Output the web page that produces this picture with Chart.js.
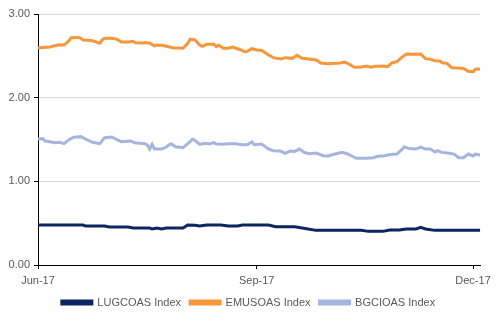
<!DOCTYPE html>
<html>
<head>
<meta charset="utf-8">
<script src="https://cdn.jsdelivr.net/npm/chart.js@4.4.0/dist/chart.umd.min.js"></script>
<style>
  html, body { margin: 0; padding: 0; background: #fff; }
  #wrap { width: 496px; height: 328px; }
</style>
</head>
<body>
<div id="wrap"><canvas id="myChart" width="496" height="328"></canvas></div>
<script>
// days counted from 1 Jun 2017
const xTickDays = [0, 92, 183];
const xTickLabels = ["Jun-17", "Sep-17", "Dec-17"];
const yTicks = [0, 1, 2, 3];

const seriesNames = ["LUGCOAS Index", "EMUSOAS Index", "BGCIOAS Index"];
const seriesColors = ["#0b2560", "#f7963a", "#a6b5de"];

const lugDays = [0, 19, 20, 28, 30, 38, 40, 47, 48, 50, 52, 54, 61, 63, 66, 68, 71, 77, 80, 84, 86, 97, 100, 108, 113, 117, 136, 139, 145, 148, 152, 155, 159, 161, 163, 167, 186];
const lugValues = [0.478, 0.478, 0.466, 0.466, 0.454, 0.454, 0.442, 0.442, 0.43, 0.442, 0.43, 0.442, 0.442, 0.478, 0.474, 0.466, 0.478, 0.478, 0.466, 0.466, 0.478, 0.478, 0.458, 0.458, 0.434, 0.414, 0.414, 0.402, 0.402, 0.418, 0.418, 0.43, 0.43, 0.45, 0.43, 0.414, 0.414];

const emuDays = [0, 2, 5, 7, 9, 11, 13, 14, 17, 18, 19, 21, 23, 24, 26, 27, 28, 31, 33, 34, 35, 38, 40, 41, 44, 45, 47, 49, 50, 52, 54, 57, 59, 61, 63, 64, 66, 68, 69, 71, 74, 75, 76, 78, 80, 82, 85, 87, 88, 90, 92, 94, 97, 99, 102, 104, 107, 109, 111, 114, 117, 119, 122, 125, 127, 129, 131, 133, 136, 138, 140, 142, 145, 147, 149, 151, 153, 155, 158, 161, 163, 165, 167, 169, 170, 172, 174, 177, 179, 181, 183, 184, 186];
const emuValues = [2.594, 2.60, 2.605, 2.62, 2.633, 2.63, 2.68, 2.717, 2.72, 2.71, 2.69, 2.685, 2.68, 2.67, 2.65, 2.69, 2.71, 2.71, 2.70, 2.685, 2.665, 2.665, 2.673, 2.657, 2.653, 2.66, 2.65, 2.62, 2.63, 2.626, 2.614, 2.594, 2.594, 2.59, 2.65, 2.70, 2.69, 2.63, 2.614, 2.637, 2.637, 2.61, 2.626, 2.59, 2.59, 2.605, 2.573, 2.55, 2.553, 2.585, 2.57, 2.566, 2.51, 2.478, 2.462, 2.478, 2.47, 2.506, 2.47, 2.462, 2.45, 2.414, 2.406, 2.41, 2.414, 2.426, 2.40, 2.363, 2.366, 2.378, 2.363, 2.375, 2.378, 2.37, 2.418, 2.43, 2.482, 2.522, 2.518, 2.522, 2.466, 2.458, 2.442, 2.438, 2.418, 2.41, 2.358, 2.355, 2.35, 2.315, 2.31, 2.34, 2.342];

const bgcDays = [0, 2, 3, 5, 7, 9, 11, 13, 15, 18, 20, 23, 26, 28, 31, 33, 35, 39, 41, 43, 45, 46, 47, 48, 49, 52, 54, 55, 56, 58, 59, 61, 63, 65, 66, 68, 70, 72, 74, 75, 78, 80, 83, 86, 88, 90, 91, 94, 97, 99, 102, 104, 106, 108, 110, 112, 114, 117, 120, 122, 125, 128, 130, 132, 134, 138, 141, 143, 146, 147, 149, 151, 153, 154, 156, 159, 161, 163, 165, 167, 168, 170, 173, 175, 177, 179, 181, 183, 184, 186];
const bgcValues = [1.506, 1.51, 1.482, 1.474, 1.462, 1.466, 1.45, 1.498, 1.526, 1.534, 1.506, 1.466, 1.45, 1.522, 1.53, 1.502, 1.474, 1.482, 1.458, 1.454, 1.45, 1.434, 1.386, 1.442, 1.386, 1.386, 1.41, 1.434, 1.45, 1.41, 1.41, 1.402, 1.45, 1.502, 1.49, 1.442, 1.454, 1.446, 1.462, 1.446, 1.442, 1.45, 1.45, 1.438, 1.438, 1.47, 1.438, 1.446, 1.386, 1.366, 1.362, 1.335, 1.362, 1.358, 1.386, 1.346, 1.33, 1.338, 1.306, 1.303, 1.326, 1.346, 1.33, 1.303, 1.275, 1.275, 1.282, 1.30, 1.306, 1.315, 1.323, 1.326, 1.378, 1.41, 1.394, 1.386, 1.41, 1.386, 1.386, 1.35, 1.366, 1.346, 1.335, 1.326, 1.282, 1.282, 1.326, 1.303, 1.326, 1.315];

function pts(days, vals){
    return days.map((d, i) => ({x: d, y: vals[i]}));
}

Chart.defaults.font.family = "Arial, 'Liberation Sans', sans-serif";
Chart.defaults.font.size = 11;
Chart.defaults.color = "#595959";

const allDays = [lugDays, emuDays, bgcDays];
const allValues = [lugValues, emuValues, bgcValues];

new Chart("myChart", {
    type: "line",
    data: {
        datasets: seriesNames.map((name, i) => ({
            label: name,
            data: pts(allDays[i], allValues[i]),
            borderColor: seriesColors[i],
            backgroundColor: seriesColors[i],
            borderWidth: 3,
            pointRadius: 0,
            tension: 0,
            fill: false
        }))
    },
    options: {
        responsive: false,
        animation: false,
        layout: { padding: { top: 14, right: 7, left: 8, bottom: 10 } },
        plugins: {
            legend: {
                position: "bottom",
                labels: {
                    boxWidth: 30,
                    boxHeight: 3,
                    padding: 9,
                    color: "#595959",
                    font: { size: 11 }
                }
            },
            tooltip: { enabled: false }
        },
        scales: {
            x: {
                type: "linear",
                min: 0,
                max: 186,
                afterBuildTicks: function(scale){
                    scale.ticks = xTickDays.map(v => ({value: v}));
                },
                afterFit: function(scale){ scale.height = 23; },
                ticks: {
                    autoSkip: false,
                    maxRotation: 0,
                    padding: 5,
                    callback: function(v){
                        return xTickLabels[xTickDays.indexOf(v)];
                    }
                },
                grid: {
                    drawOnChartArea: false,
                    drawTicks: true,
                    tickLength: 4,
                    tickColor: "#000"
                },
                border: { display: true, color: "#000", width: 1 }
            },
            y: {
                min: 0,
                max: 3,
                afterBuildTicks: function(scale){
                    scale.ticks = yTicks.map(v => ({value: v}));
                },
                afterFit: function(scale){ scale.width = 30; },
                ticks: {
                    padding: 4,
                    callback: function(v){ return v.toFixed(2); }
                },
                grid: {
                    color: "#d9d9d9",
                    tickColor: "#000",
                    tickLength: 4
                },
                border: { display: true, color: "#000", width: 1 }
            },
            // empty strip on the right so the plot ends where the original does
            yRight: {
                position: "right",
                min: 0,
                max: 1,
                afterFit: function(scale){ scale.width = 8; },
                ticks: { display: false },
                grid: { display: false },
                border: { display: false }
            }
        }
    }
});
</script>
</body>
</html>
